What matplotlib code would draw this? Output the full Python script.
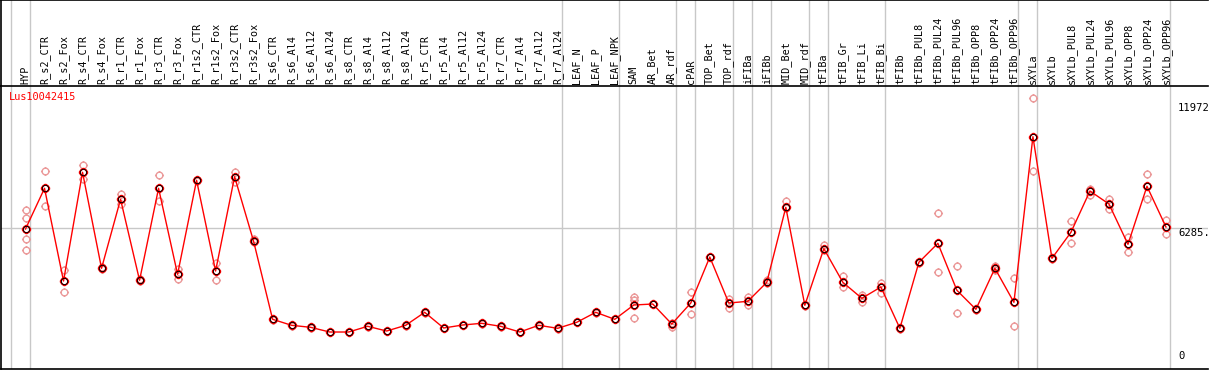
import matplotlib.pyplot as plt
from matplotlib.path import Path
import numpy as np

samples = ["HYP", "R_s2_CTR", "R_s2_Fox", "R_s4_CTR", "R_s4_Fox", "R_r1_CTR", "R_r1_Fox",
           "R_r3_CTR", "R_r3_Fox", "R_r1s2_CTR", "R_r1s2_Fox", "R_r3s2_CTR", "R_r3s2_Fox",
           "R_s6_CTR", "R_s6_Al4", "R_s6_Al12", "R_s6_Al24", "R_s8_CTR", "R_s8_Al4",
           "R_s8_Al12", "R_s8_Al24", "R_r5_CTR", "R_r5_Al4", "R_r5_Al12", "R_r5_Al24",
           "R_r7_CTR", "R_r7_Al4", "R_r7_Al12", "R_r7_Al24", "LEAF_N", "LEAF_P", "LEAF_NPK",
           "SAM", "AR_Bet", "AR_rdf", "cPAR", "TOP_Bet", "TOP_rdf", "iFIBa", "iFIBb",
           "MID_Bet", "MID_rdf", "tFIBa", "tFIB_Gr", "tFIB_Li", "tFIB_Bi", "tFIBb",
           "tFIBb_PUL8", "tFIBb_PUL24", "tFIBb_PUL96", "tFIBb_OPP8", "tFIBb_OPP24",
           "tFIBb_OPP96", "sXYLa", "sXYLb", "sXYLb_PUL8", "sXYLb_PUL24", "sXYLb_PUL96",
           "sXYLb_OPP8", "sXYLb_OPP24", "sXYLb_OPP96"]

means = [6241, 8089, 3881, 8815, 4457, 7590, 3913, 8089, 4185, 8452, 4335, 8616, 5683,
         2143, 1870, 1779, 1566, 1566, 1825, 1611, 1870, 2460, 1748, 1884, 1961,
         1825, 1566, 1870, 1734, 2006, 2460, 2143, 2792, 2837, 1929, 2882, 4970,
         2882, 2960, 3822, 7226, 2778, 5348, 3822, 3096, 3609, 1734, 4730, 5592,
         3459, 2596, 4457, 2914, 10431, 4911, 6092, 7966, 7376, 5547, 8180, 6332]

reps = [[7104, 6727, 5774, 5275], [8861, 7272], [4380, 3395], [9149, 8511], [4500, 4420],
        [7830, 7376], [3950, 3880], [8679, 7499], [4412, 3958], [8480, 8430], [4712, 3913],
        [8843, 8389], [5801, 5640], [2150, 2130], [1880, 1860], [1790, 1770], [1570, 1560],
        [1575, 1560], [1835, 1815], [1620, 1600], [1880, 1860], [2470, 2450], [1755, 1740],
        [1890, 1875], [1970, 1950], [1835, 1815], [1575, 1560], [1880, 1860], [1740, 1725],
        [2015, 2000], [2470, 2450], [2150, 2135], [3168, 3019, 2188], [2850, 2825],
        [1990, 1810], [3395, 2370], [4980, 4960], [3050, 2669], [3141, 2805], [3913, 3800],
        [7512, 7200], [2790, 2765], [5515, 5300], [4108, 3622], [3232, 2928], [3804, 3323],
        [1745, 1720], [4740, 4720], [6954, 4276], [4548, 2415], [2610, 2585], [4576, 4400],
        [4004, 1825], [12174, 8861], [4925, 4900], [6591, 5592], [8071, 7771], [7590, 7136],
        [5892, 5211], [8738, 7590], [6650, 6001]]

# last sample index of each group (-1 = before the first one)
group_ends = [-1, 0, 28, 31, 34, 35, 37, 38, 39, 41, 42, 45, 52, 53, 60]
gene = "Lus10042415"
right_ticks = [11972, 6285, 0]
right_labels = ["11972", "6285.", "0"]

x = np.arange(len(samples))

# open circle with four small ticks
circ = Path.circle((0, 0), 1.0)
ticks = Path([(0, 1), (0, 1.35), (0, -1), (0, -1.35), (1, 0), (1.35, 0), (-1, 0), (-1.35, 0)],
             [Path.MOVETO, Path.LINETO] * 4)
ring = Path.make_compound_path(circ, ticks)

W, H = 1209, 370
fig = plt.figure(figsize=(W / 100, H / 100), dpi=100)
head = fig.add_axes([1 / W, 1 - 86 / H, 1207 / W, 86 / H])
ax = fig.add_axes([1 / W, 1 / H, 1207 / W, 283 / H], sharex=head)

xlim = ((1.5 - 26) / 19, (1208 - 26) / 19)
ax.set_xlim(xlim)
ax.set_ylim(-113, 12733)
head.set_ylim(0, 86)

for a in (head, ax):
    a.set_xticks([])
    a.set_yticks([])
    a.spines['right'].set_visible(False)
    for s in ('left', 'top', 'bottom'):
        a.spines[s].set_color('black')
        a.spines[s].set_linewidth(1.2)
    for g in group_ends:
        a.axvline(g + 0.22, color='#c8c8c8', lw=1, zorder=0)
head.spines['bottom'].set_visible(False)

ax.axhline(6285, color='#c8c8c8', lw=1, zorder=0)

for i, vals in enumerate(reps):
    ax.plot([i] * len(vals), vals, ls='none', marker=ring, ms=6.5, mfc='none',
            mec='#eb9a9a', mew=1, zorder=2)

ax.plot(x, means, color='red', lw=1, zorder=3)
ax.plot(x, means, ls='none', marker=ring, ms=6.8, mfc='none', mec='red', mew=1.3, zorder=4)
ax.plot(x, means, ls='none', marker='o', ms=4.6, mfc='none', mec='black', mew=0.7, zorder=5)

for i, s in enumerate(samples):
    head.text(i, 2, s, rotation=90, ha='center', va='bottom', fontsize=7.3,
              family='DejaVu Sans Mono')

fig.text(9 / W, 1 - 92 / H, gene, color='red', fontsize=7.4, family='DejaVu Sans Mono',
         va='top', ha='left')

xr = (1178 - 26) / 19
for v, lab in zip(right_ticks, right_labels):
    ax.text(xr, v + (250 if v == 0 else 0), lab, fontsize=7.6, family='DejaVu Sans Mono',
            ha='left', va='bottom' if v == 0 else 'top')

fig.savefig("out.png", dpi=100)
